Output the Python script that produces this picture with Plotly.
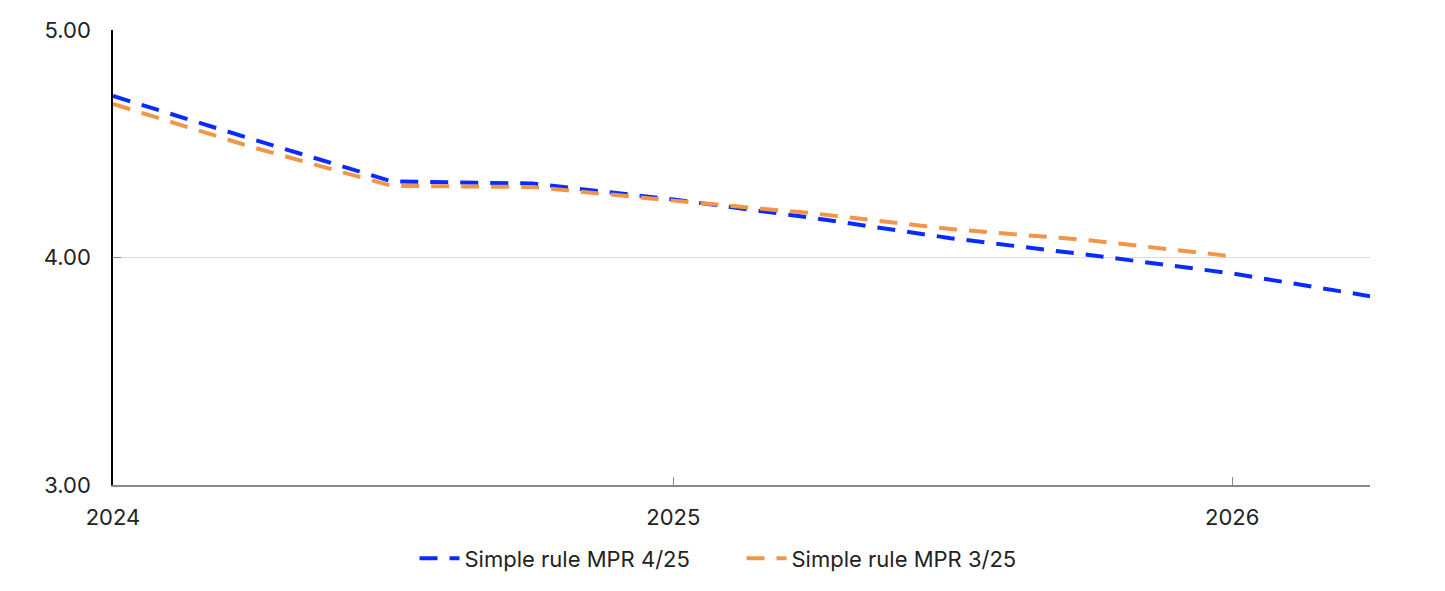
import plotly.graph_objects as go

dates = ["2024-01-01", "2024-04-01", "2024-07-01", "2024-10-01", "2025-01-01",
         "2025-04-01", "2025-07-01", "2025-10-01", "2026-01-01", "2026-04-01"]
mpr_4_25 = [4.71, 4.52, 4.335, 4.325, 4.255, 4.175, 4.085, 4.01, 3.93, 3.83]
mpr_3_25 = [4.675, 4.485, 4.315, 4.31, 4.25, 4.195, 4.125, 4.075, 4.005, None]

fig = go.Figure()
fig.add_trace(go.Scatter(x=dates, y=mpr_4_25, mode="lines", name="Simple rule MPR 4/25",
                         line=dict(color="#0A2BFF", width=4, dash="18px,12px")))
fig.add_trace(go.Scatter(x=dates[:9], y=mpr_3_25[:9], mode="lines", name="Simple rule MPR 3/25",
                         line=dict(color="#F0954A", width=4, dash="18px,12px")))

fig.update_layout(
    width=1445, height=591,
    margin=dict(l=105, r=83, t=22, b=114, autoexpand=False),
    plot_bgcolor="white", paper_bgcolor="white",
    font=dict(family="Inter, Roboto, sans-serif", size=22, color="#222"),
    showlegend=True,
    legend=dict(orientation="h", x=0.5, xanchor="center", y=-0.115, yanchor="top",
                font=dict(size=22), itemwidth=40, entrywidth=272),
    xaxis=dict(type="date", range=["2024-01-01", "2026-04-01"], dtick="M12",
               tick0="2024-01-01", tickformat="%Y", automargin=False,
               showgrid=False, showline=True, linecolor="#888", linewidth=1.5,
               ticks="inside", ticklen=8, tickcolor="#888", tickwidth=1,
               ticklabelstandoff=12, zeroline=False),
    yaxis=dict(range=[3, 5], tickvals=[3, 4, 5], tickformat=".2f", automargin=False,
               showgrid=True, gridcolor="#DDDDDD", gridwidth=1,
               showline=True, linecolor="black", linewidth=1.5,
               ticks="inside", ticklen=8, tickcolor="#888",
               ticklabelstandoff=16, zeroline=False),
)
fig.write_html("out.html")
